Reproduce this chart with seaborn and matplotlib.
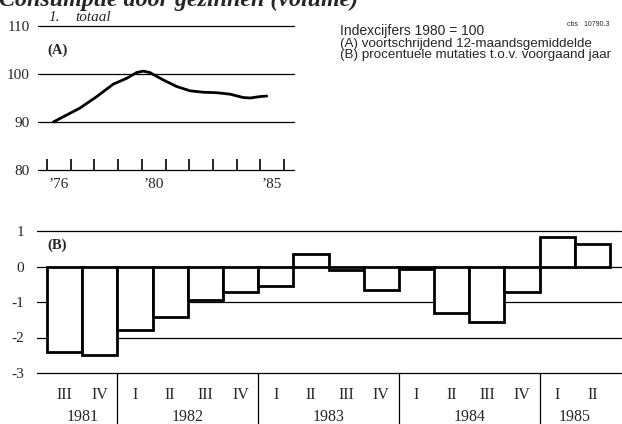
import matplotlib
matplotlib.use('Agg')
import matplotlib.pyplot as plt
import matplotlib.transforms as mtransforms
import pandas as pd
import seaborn as sns

# (A) 12-month moving average, index 1980 = 100
ma_years = [1976.27, 1976.69, 1977.39, 1978.10, 1978.80, 1979.36, 1979.78, 1980.06,
            1980.34, 1980.91, 1981.47, 1982.03, 1982.59, 1983.16, 1983.72, 1984.28,
            1984.57, 1984.99, 1985.27]
ma_values = [90.0, 91.1, 92.9, 95.3, 97.9, 99.1, 100.3, 100.6,
             100.3, 98.75, 97.4, 96.5, 96.2, 96.1, 95.8, 95.1,
             95.0, 95.3, 95.4]

# (B) percentage change vs previous year, by quarter
quarters = ['III', 'IV', 'I', 'II', 'III', 'IV', 'I', 'II', 'III', 'IV',
            'I', 'II', 'III', 'IV', 'I', 'II']
quarter_years = [1981, 1981, 1982, 1982, 1982, 1982, 1983, 1983, 1983, 1983,
                 1984, 1984, 1984, 1984, 1985, 1985]
changes = [-2.42, -2.49, -1.80, -1.43, -0.94, -0.72, -0.54, 0.35, -0.11, -0.66,
           -0.06, -1.30, -1.57, -0.72, 0.82, 0.64]

year_ticks = list(range(1976, 1987))
year_labels = {1976.5: '’76', 1980.5: '’80', 1985.5: '’85'}

sns.set_style('white')
plt.rcParams['font.family'] = ['Liberation Serif', 'DejaVu Serif']
plt.rcParams['axes.unicode_minus'] = False

W, H = 622, 424
fig = plt.figure(figsize=(W / 100, H / 100), dpi=100)


def rect(x0, y0, x1, y1):
    return [x0 / W, 1 - y1 / H, (x1 - x0) / W, (y1 - y0) / H]


# ---- top panel (A) ----
ax1 = fig.add_axes(rect(38, 26, 294, 170))
for v in [80, 90, 100, 110]:
    ax1.axhline(v, color='black', lw=0.9, zorder=0, clip_on=False)
df_a = pd.DataFrame({'year': ma_years, 'index': ma_values})
sns.lineplot(data=df_a, x='year', y='index', color='black', lw=2.0, ax=ax1)
ax1.set_ylim(80, 110)
ax1.set_xlim(1976 - 9 / 23.7, 1986 + 10 / 23.7)
ax1.set_yticks([80, 90, 100, 110])
ax1.set_yticklabels(['80', '90', '100', '110'], fontsize=11)
ax1.tick_params(axis='y', left=False, length=0, pad=5.8)
ax1.set_xticks(year_ticks)
ax1.set_xticklabels([])
ax1.tick_params(axis='x', which='major', bottom=True, direction='in', length=8,
                width=1.2, color='black')
ax1.set_xticks(list(year_labels.keys()), minor=True)
ax1.set_xticklabels(list(year_labels.values()), minor=True, fontsize=11)
ax1.tick_params(axis='x', which='minor', bottom=True, length=0, pad=6)
ax1.set_xlabel('')
ax1.set_ylabel('')
for s in ax1.spines.values():
    s.set_visible(False)
ax1.text(0.035, 0.83, '(A)', transform=ax1.transAxes, fontsize=10.5, fontweight='bold',
         va='center')

# ---- bottom panel (B) ----
ax2 = fig.add_axes(rect(37, 231, 621, 373))
for v in [1, 0, -1, -2, -3]:
    ax2.axhline(v, color='black', lw=0.9, zorder=0, clip_on=False)
df_b = pd.DataFrame({'period': [f'{y} {q}' for y, q in zip(quarter_years, quarters)],
                     'change': changes})
sns.barplot(data=df_b, x='period', y='change', width=1.0, color='white',
            edgecolor='black', linewidth=2.0, saturation=1, ax=ax2, zorder=2)
ax2.set_ylim(-3, 1)
ax2.set_xlim(-0.5 - 10 / 35.19, 15.5 + 11 / 35.19)
ax2.set_yticks([1, 0, -1, -2, -3])
ax2.set_yticklabels(['1', '0', '-1', '-2', '-3'], fontsize=11)
ax2.tick_params(axis='y', length=0, pad=9.5)
ax2.set_xticks(range(len(quarters)))
ax2.set_xticklabels(quarters, fontsize=11.5)
ax2.tick_params(axis='x', length=0, pad=10)
ax2.set_xlabel('')
ax2.set_ylabel('')
for s in ax2.spines.values():
    s.set_visible(False)
ax2.text(0.017, 0.9, '(B)', transform=ax2.transAxes, fontsize=10.5, fontweight='bold',
         va='center')

trans = mtransforms.blended_transform_factory(ax2.transData, ax2.transAxes)
pos = list(range(len(quarters)))
years_sorted = sorted(set(quarter_years))
for i, yr in enumerate(years_sorted):
    idx = [p for p, y in zip(pos, quarter_years) if y == yr]
    ax2.text(sum(idx) / len(idx), -0.31, str(yr), transform=trans, fontsize=11.5,
             ha='center', va='center')
    if i < len(years_sorted) - 1:
        xb = max(idx) + 0.5
        ax2.plot([xb, xb], [0, -0.37], transform=trans, color='black', lw=0.9,
                 clip_on=False)

# ---- texts ----
fig.text(-0.002, 1 - 6 / H, 'Consumptie door gezinnen (volume)', fontsize=17.3,
         fontweight='bold', fontstyle='italic', va='baseline')
fig.text(48 / W, 1 - 21 / H, '1.', fontsize=11, fontstyle='italic', va='baseline')
fig.text(75 / W, 1 - 21 / H, 'totaal', fontsize=11, fontstyle='italic', va='baseline')

sans = ['Liberation Sans', 'DejaVu Sans']
fig.text(340 / W, 1 - 31 / H, 'Indexcijfers 1980 = 100', fontsize=10, family=sans,
         va='center')
fig.text(340 / W, 1 - 44 / H, '(A) voortschrijdend 12-maandsgemiddelde', fontsize=9.6,
         family=sans, va='center')
fig.text(340 / W, 1 - 55 / H, '(B) procentuele mutaties t.o.v. voorgaand jaar', fontsize=9.6,
         family=sans, va='center')
fig.text(567 / W, 1 - 24 / H, 'cbs   10790.3', fontsize=5, family=sans, va='center')

fig.savefig('out.png', dpi=100)
